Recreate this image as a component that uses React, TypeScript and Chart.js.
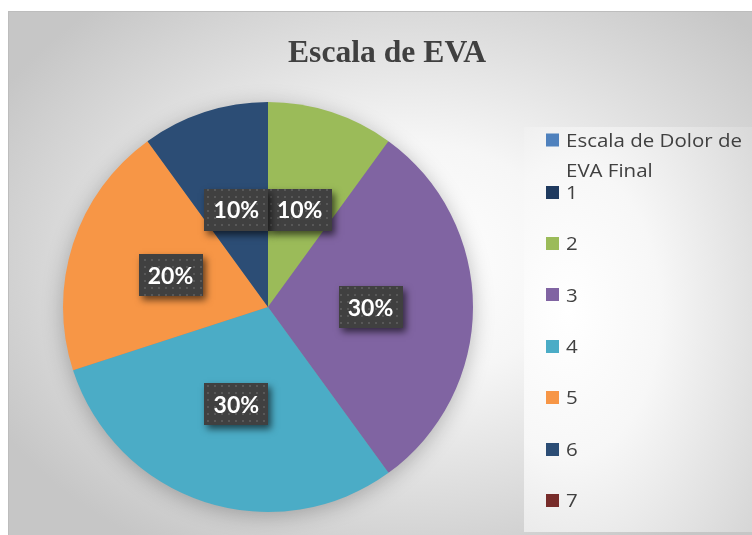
import React, { useEffect, useRef } from "react";
import { Chart, registerables } from "chart.js";

Chart.register(...registerables);

const TITLE = "Escala de EVA";
const LABELS = ["1", "2", "3", "4", "5", "6", "7"];
const VALUES = [0, 1, 3, 3, 2, 1, 0];
const COLORS = ["#1f3a5f", "#9bbb59", "#8064a2", "#4bacc6", "#f79646", "#2c4d75", "#772c2a"];
const SERIES_NAME_LINES = ["Escala de Dolor de", "EVA Final"];
const SERIES_COLOR = "#4f81bd";

const W = 744;
const H = 524;

const bgPlugin = {
  id: "bgPlugin",
  beforeDraw(chart: any) {
    const ctx = chart.ctx as CanvasRenderingContext2D;
    ctx.save();
    ctx.save();
    ctx.translate(400, 250);
    ctx.scale(1, 0.72);
    const g = ctx.createRadialGradient(0, 0, 0, 0, 0, 470);
    g.addColorStop(0, "#ffffff");
    g.addColorStop(0.35, "#f6f6f6");
    g.addColorStop(1, "#c6c6c6");
    ctx.fillStyle = g;
    ctx.fillRect(-400, -250 / 0.72, W, H / 0.72 + 10);
    ctx.restore();
    ctx.fillStyle = "#bdbdbd";
    ctx.fillRect(0, 0, W, 1);
    ctx.fillRect(0, 0, 1, H);
    ctx.save();
    const px = 516, py = 116, pw = W - 516, ph = 405;
    ctx.beginPath();
    ctx.rect(px, py, pw, ph);
    ctx.clip();
    ctx.translate(560, 300);
    ctx.scale(1, 1.6);
    const g2 = ctx.createRadialGradient(0, 0, 0, 0, 0, 230);
    g2.addColorStop(0, "#ffffff");
    g2.addColorStop(0.4, "#f7f7f7");
    g2.addColorStop(1, "#d6d6d6");
    ctx.fillStyle = g2;
    ctx.fillRect(-100, -200, 400, 400);
    ctx.restore();
    ctx.restore();
  },
  beforeDatasetsDraw(chart: any) {
    const meta = chart.getDatasetMeta(0);
    const arc = meta.data.find((a: any) => a.outerRadius > 0);
    if (!arc) return;
    const ctx = chart.ctx as CanvasRenderingContext2D;
    ctx.save();
    ctx.shadowColor = "rgba(0,0,0,0.28)";
    ctx.shadowBlur = 22;
    ctx.shadowOffsetY = 4;
    ctx.fillStyle = "#888";
    ctx.beginPath();
    ctx.arc(arc.x, arc.y, arc.outerRadius - 1, 0, Math.PI * 2);
    ctx.fill();
    ctx.restore();
  },
};

function makePattern(ctx: CanvasRenderingContext2D) {
  const pc = document.createElement("canvas");
  pc.width = 7;
  pc.height = 7;
  const p = pc.getContext("2d")!;
  p.fillStyle = "#404040";
  p.fillRect(0, 0, 7, 7);
  p.fillStyle = "#585858";
  p.fillRect(3, 3, 2, 2);
  return ctx.createPattern(pc, "repeat");
}

const labelPlugin = {
  id: "labelPlugin",
  afterDatasetsDraw(chart: any) {
    const ctx = chart.ctx as CanvasRenderingContext2D;
    const meta = chart.getDatasetMeta(0);
    const data = chart.data.datasets[0].data as number[];
    const total = data.reduce((a, b) => a + b, 0);
    const pattern = makePattern(ctx);
    ctx.save();
    ctx.font = 'bold 23px Lato';
    meta.data.forEach((arc: any, i: number) => {
      const v = data[i];
      if (!v) return;
      const pos = arc.tooltipPosition();
      const txt = Math.round((v / total) * 100) + "%";
      const tw = ctx.measureText(txt).width;
      const bw = Math.round(tw + 18);
      const bh = 42;
      const x = Math.round(pos.x - bw / 2);
      const y = Math.round(pos.y - bh / 2);
      ctx.save();
      ctx.shadowColor = "rgba(0,0,0,0.6)";
      ctx.shadowBlur = 7;
      ctx.shadowOffsetX = 3;
      ctx.shadowOffsetY = 4;
      ctx.fillStyle = "#404040";
      ctx.fillRect(x, y, bw, bh);
      ctx.restore();
      if (pattern) {
        ctx.fillStyle = pattern;
        ctx.fillRect(x, y, bw, bh);
      }
      ctx.fillStyle = "#ffffff";
      ctx.textAlign = "center";
      ctx.textBaseline = "alphabetic";
      ctx.fillText(txt, pos.x, pos.y + 8.5);
    });
    ctx.restore();
  },
  afterDraw(chart: any) {
    const ctx = chart.ctx as CanvasRenderingContext2D;
    // Title
    ctx.save();
    ctx.font = 'bold 32px "Liberation Serif", "Times New Roman", serif';
    const tw = ctx.measureText(TITLE).width;
    ctx.translate(379, 51);
    ctx.scale(198 / tw, 1);
    ctx.fillStyle = "#404040";
    ctx.textAlign = "center";
    ctx.textBaseline = "alphabetic";
    ctx.fillText(TITLE, 0, 0);
    ctx.restore();

    // Legend
    ctx.save();
    ctx.font = '19px "Open Sans"';
    const lw = ctx.measureText(SERIES_NAME_LINES[0]).width;
    const sx = 176 / lw;
    const drawText = (t: string, x: number, y: number) => {
      ctx.save();
      ctx.translate(x, y);
      ctx.scale(sx, 1);
      ctx.fillStyle = "#404040";
      ctx.textAlign = "left";
      ctx.textBaseline = "alphabetic";
      ctx.fillText(t, 0, 0);
      ctx.restore();
    };
    const sqX = 538, sq = 13, txX = 558;
    ctx.fillStyle = SERIES_COLOR;
    ctx.fillRect(sqX, 129 - sq / 2, sq, sq);
    drawText(SERIES_NAME_LINES[0], txX, 135.5);
    drawText(SERIES_NAME_LINES[1], txX, 165.5);
    const labels = chart.data.labels as string[];
    const colors = chart.data.datasets[0].backgroundColor as string[];
    labels.forEach((l, i) => {
      const cy = 181 + i * 51.4;
      ctx.fillStyle = colors[i];
      ctx.fillRect(sqX, Math.round(cy - sq / 2), sq, sq);
      drawText(l, txX, cy + 6.8);
    });
    ctx.restore();
  },
};

export default function App() {
  const ref = useRef<HTMLCanvasElement | null>(null);
  useEffect(() => {
    let chart: Chart | null = null;
    let cancelled = false;
    const make = () => {
      if (cancelled || !ref.current) return;
      chart = new Chart(ref.current, {
        type: "pie",
        data: {
          labels: LABELS,
          datasets: [
            {
              data: VALUES,
              backgroundColor: COLORS,
              borderWidth: 0,
              hoverOffset: 0,
            },
          ],
        },
        options: {
          animation: false,
          responsive: false,
          layout: { padding: { left: 55, right: 279, top: 91, bottom: 23 } },
          plugins: {
            legend: { display: false },
            title: { display: false },
            tooltip: { enabled: false },
          },
        },
        plugins: [bgPlugin, labelPlugin],
      });
    };
    const fonts = (document as any).fonts;
    if (fonts && fonts.load) {
      Promise.all([
        fonts.load('bold 23px Lato'),
        fonts.load('19px "Open Sans"'),
        fonts.load('bold 32px "Liberation Serif"'),
      ]).then(make, make);
    } else make();
    return () => {
      cancelled = true;
      if (chart) chart.destroy();
    };
  }, []);
  return (
    <div style={{ position: "absolute", left: 8, top: 11, width: W, height: H }}>
      <canvas ref={ref} width={W} height={H} style={{ width: W, height: H, display: "block" }} />
    </div>
  );
}
